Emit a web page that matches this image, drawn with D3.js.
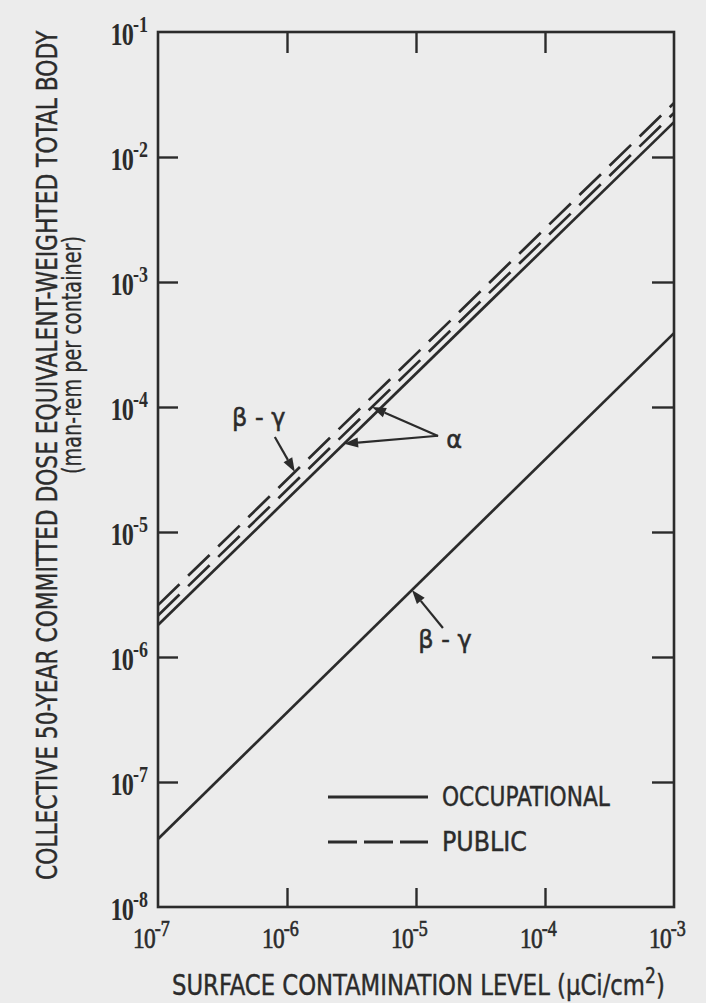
<!DOCTYPE html>
<html>
<head>
<meta charset="utf-8">
<script src="https://cdn.jsdelivr.net/npm/d3@7"></script>
<style>
  body { margin: 0; background: #ececec; }
  svg { display: block; }
</style>
</head>
<body>
<div id="chart"></div>
<script>
// axis ticks (decades) and their exponent labels
const xTickValues = [1e-7, 1e-6, 1e-5, 1e-4, 1e-3]
const xTickLabels = ['-7', '-6', '-5', '-4', '-3']
const yTickValues = [1e-8, 1e-7, 1e-6, 1e-5, 1e-4, 1e-3, 1e-2, 1e-1]
const yTickLabels = ['-8', '-7', '-6', '-5', '-4', '-3', '-2', '-1']

// each line read at both ends of the x range
const xEnds = [1e-7, 1e-3]
const publicBetaGamma = [2.6e-6, 2.7e-2]
const publicAlpha = [2.15e-6, 2.25e-2]
const occupationalAlpha = [1.8e-6, 1.9e-2]
const occupationalBetaGamma = [3.5e-8, 3.9e-4]

const seriesNames = ['publicBetaGamma', 'publicAlpha', 'occupationalAlpha', 'occupationalBetaGamma']
const seriesValues = [publicBetaGamma, publicAlpha, occupationalAlpha, occupationalBetaGamma]
const seriesKind = ['public', 'public', 'occupational', 'occupational']

const legendLabels = ['OCCUPATIONAL', 'PUBLIC']

let width = 706
let height = 1003
let margin = { top: 32, left: 158, right: 32, bottom: 96 }

let ink = '#2b2b2b'
let narrow = 'DejaVu Sans Condensed, DejaVu Sans, sans-serif'
let tickFont = 'Liberation Serif, DejaVu Serif, serif'

let svg = d3
  .select('#chart')
  .append('svg')
  .attr('width', width)
  .attr('height', height)

let xScale = d3
  .scaleLog()
  .domain([1e-7, 1e-3])
  .range([margin.left, width - margin.right])

let yScale = d3
  .scaleLog()
  .domain([1e-8, 1e-1])
  .range([height - margin.bottom, margin.top])

let [x0, x1] = xScale.range()
let [y0, y1] = yScale.range()

// squeeze a text horizontally to a wanted length
function squeeze(sel, x, y, len, rot) {
  let w = sel.node().getComputedTextLength()
  let k = len / w
  sel.attr('transform', `translate(${x},${y})${rot ? ' rotate(-90)' : ''} scale(${k},1)`)
}

// frame
svg
  .append('rect')
  .attr('x', x0)
  .attr('y', y1)
  .attr('width', x1 - x0)
  .attr('height', y0 - y1)
  .attr('fill', 'none')
  .attr('stroke', ink)
  .attr('stroke-width', 2.6)

// inner ticks on all four sides
let innerX = xTickValues.slice(1, -1)
let innerY = yTickValues.slice(1, -1)

let axes = [
  d3.axisBottom(xScale).tickValues(innerX).tickSize(-19),
  d3.axisTop(xScale).tickValues(innerX).tickSize(-21),
  d3.axisLeft(yScale).tickValues(innerY).tickSize(-20),
  d3.axisRight(yScale).tickValues(innerY).tickSize(-22)
]
let shifts = [`translate(0,${y0})`, `translate(0,${y1})`, `translate(${x0},0)`, `translate(${x1},0)`]

axes.forEach((axis, i) => {
  let g = svg
    .append('g')
    .attr('transform', shifts[i])
    .call(axis.tickFormat(''))
  g.select('.domain').remove()
  g.selectAll('.tick line').attr('stroke', ink).attr('stroke-width', 2.4)
})

// tick labels: 10 with a raised exponent
svg
  .selectAll('.ylabel')
  .data(yTickValues)
  .enter()
  .append('text')
  .attr('class', 'ylabel')
  .attr('transform', d => `translate(148,${yScale(d) + 13}) scale(0.78,1)`)
  .attr('text-anchor', 'end')
  .attr('font-family', tickFont)
  .attr('font-weight', 'bold')
  .attr('fill', ink)
  .each(function(d, i) {
    let t = d3.select(this)
    t.append('tspan').attr('font-size', 31).attr('letter-spacing', -1).text('10')
    t.append('tspan').attr('font-size', 23).attr('dy', -13).text(yTickLabels[i])
  })

svg
  .selectAll('.xlabel')
  .data(xTickValues)
  .enter()
  .append('text')
  .attr('class', 'xlabel')
  .attr('transform', d => `translate(${xScale(d) - 25},948) scale(0.78,1)`)
  .attr('font-family', tickFont)
  .attr('fill', ink)
  .attr('stroke', ink)
  .attr('stroke-width', 0.7)
  .each(function(d, i) {
    let t = d3.select(this)
    t.append('tspan').attr('font-size', 30).attr('letter-spacing', -1).text('10')
    t.append('tspan').attr('font-size', 23).attr('dy', -12).text(xTickLabels[i])
  })

// the lines
let line = d3
  .line()
  .x(d => xScale(d[0]))
  .y(d => yScale(d[1]))

svg
  .selectAll('.series')
  .data(seriesValues)
  .enter()
  .append('path')
  .attr('class', 'series')
  .attr('d', d => line(xEnds.map((x, i) => [x, d[i]])))
  .attr('fill', 'none')
  .attr('stroke', ink)
  .attr('stroke-width', 2.7)
  .attr('stroke-dasharray', (d, i) => (seriesKind[i] === 'public' ? '30,12' : null))

// arrows: tip on a line at x value `at`, tail offset in px
const arrows = [
  { series: 'publicBetaGamma', at: 1.15e-6, dx: -20, dy: -35 },
  { series: 'occupationalBetaGamma', at: 9.3e-6, dx: 31, dy: 38 },
  { series: 'occupationalAlpha', at: 2.77e-6, dx: 94, dy: -8 },
  { series: 'publicAlpha', at: 4.56e-6, dx: 66, dy: 29 }
]
const notes = [
  { text: 'β - γ', arrow: 0, dx: -36, dy: -46 },
  { text: 'β - γ', arrow: 1, dx: 33, dy: 58 },
  { text: 'α', arrow: 2, dx: 110, dy: 4 }
]

function tipOf(a) {
  let v = seriesValues[seriesNames.indexOf(a.series)]
  let px = xScale(a.at)
  let t = (px - x0) / (x1 - x0)
  let py = yScale(v[0]) + t * (yScale(v[1]) - yScale(v[0]))
  return [px, py]
}

arrows.forEach(a => {
  let [tx, ty] = tipOf(a)
  let sx = tx + a.dx
  let sy = ty + a.dy
  let ang = Math.atan2(ty - sy, tx - sx)
  let len = 14
  let half = 5
  let bx = tx - len * Math.cos(ang)
  let by = ty - len * Math.sin(ang)
  svg
    .append('line')
    .attr('x1', sx)
    .attr('y1', sy)
    .attr('x2', bx)
    .attr('y2', by)
    .attr('stroke', ink)
    .attr('stroke-width', 2.2)
  svg
    .append('path')
    .attr(
      'd',
      `M${tx},${ty}L${bx - half * Math.sin(ang)},${by + half * Math.cos(ang)}L${bx + half * Math.sin(ang)},${by - half * Math.cos(ang)}Z`
    )
    .attr('fill', ink)
})

notes.forEach(n => {
  let [tx, ty] = tipOf(arrows[n.arrow])
  svg
    .append('text')
    .attr('x', tx + n.dx)
    .attr('y', ty + n.dy)
    .attr('text-anchor', 'middle')
    .attr('font-family', 'DejaVu Sans, sans-serif')
    .attr('font-size', 24)
    .attr('fill', ink)
    .attr('stroke', ink)
    .attr('stroke-width', 0.5)
    .text(n.text)
})

// legend
let legend = svg.append('g').attr('transform', 'translate(328,797)')

legend
  .selectAll('.legend-entry')
  .data(legendLabels)
  .enter()
  .append('g')
  .attr('class', 'legend-entry')
  .attr('transform', (d, i) => `translate(0,${i * 45})`)
  .each(function(d, i) {
    let g = d3.select(this)
    g.append('line')
      .attr('x1', 0)
      .attr('x2', 100)
      .attr('stroke', ink)
      .attr('stroke-width', 2.8)
      .attr('stroke-dasharray', i === 1 ? '29,7' : null)
    let t = g
      .append('text')
      .text(d)
      .attr('font-family', narrow)
      .attr('font-size', 26)
      .attr('fill', ink)
      .attr('stroke', ink)
      .attr('stroke-width', 0.4)
    squeeze(t, 114, 9, i === 0 ? 168 : 85)
  })

// axis titles
let xTitle = svg
  .append('text')
  .attr('font-family', narrow)
  .attr('font-size', 28)
  .attr('fill', ink)
  .attr('stroke', ink)
  .attr('stroke-width', 0.4)
xTitle.append('tspan').text('SURFACE CONTAMINATION LEVEL (μCi/cm')
xTitle.append('tspan').attr('dy', -12).attr('font-size', 21).text('2')
xTitle.append('tspan').attr('dy', 12).text(')')
squeeze(xTitle, 172, 995, 493)

let yTitle = svg
  .append('text')
  .attr('font-family', narrow)
  .attr('font-size', 28)
  .attr('fill', ink)
  .attr('stroke', ink)
  .attr('stroke-width', 0.4)
  .text('COLLECTIVE 50-YEAR COMMITTED DOSE EQUIVALENT-WEIGHTED TOTAL BODY')
squeeze(yTitle, 57, 880, 850, true)

let ySub = svg
  .append('text')
  .attr('font-family', narrow)
  .attr('font-size', 27)
  .attr('fill', ink)
  .attr('stroke', ink)
  .attr('stroke-width', 0.3)
  .text('(man-rem per container)')
squeeze(ySub, 81, 474, 238, true)
</script>
</body>
</html>
